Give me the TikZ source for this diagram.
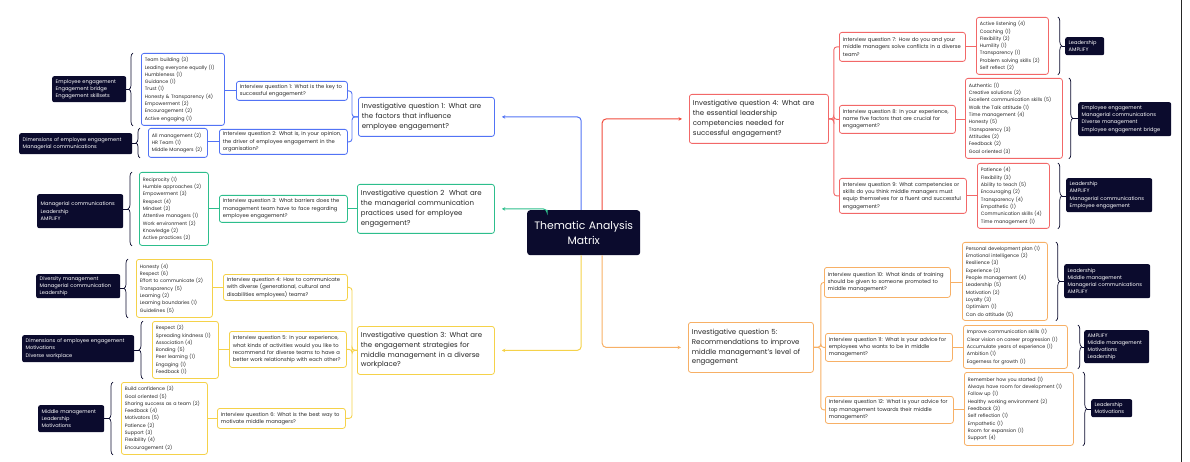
\documentclass[tikz,border=0pt]{standalone}
\usepackage{fontspec}
\setmainfont{Poppins}
\usetikzlibrary{decorations.pathreplacing,arrows.meta}
\hyphenpenalty=10000
\exhyphenpenalty=10000

\definecolor{navy}{HTML}{0B0B2D}
\definecolor{ink}{HTML}{262626}
\definecolor{cblue}{HTML}{5273F5}
\definecolor{cgreen}{HTML}{2DBE8C}
\definecolor{cyellow}{HTML}{F5D24A}
\definecolor{cred}{HTML}{F26868}
\definecolor{credarrow}{HTML}{F04B3C}
\definecolor{corange}{HTML}{F7B066}

% box placed by its top-left and bottom-right corners (in px units)
\newcommand\mapbox[7]{%
  \pgfmathsetmacro\mapw{#5-#3}%
  \pgfmathsetmacro\maph{#6-#4}%
  \pgfmathsetmacro\maptw{#5-#3-7}%
  \node[#2, anchor=north west, inner xsep=3.5pt, inner ysep=0pt,
        minimum width=\mapw pt, minimum height=\maph pt,
        text width=\maptw pt] (#1) at (#3,-#4) {#7};}

% curly brace on the left of an item list, tied to its tag box
\newcommand\leftbrace[3]{%
  \draw[bracestyle] ([xshift=-#3pt]#1.south west) -- ([xshift=-#3pt]#1.north west);
  \coordinate (#1tip) at ([xshift=-#3pt-4pt]#1.west);
  \draw[tick] (#2.east |- #1tip) -- (#1tip);}
% curly brace on the right of an item list
\newcommand\rightbrace[3]{%
  \draw[bracestyle] ([xshift=#3pt]#1.north east) -- ([xshift=#3pt]#1.south east);
  \coordinate (#1tip) at ([xshift=#3pt+4pt]#1.east);
  \draw[tick] (#1tip) -- (#2.west |- #1tip);}

\tikzset{
  base/.style={rounded corners=2.5pt, line width=0.8pt, fill=white, align=left, text=ink},
  iqbox/.style={base, font=\fontsize{7}{9.8}\selectfont},
  qbox/.style={base, font=\fontsize{5.2}{7.3}\selectfont},
  itembox/.style={base, font=\fontsize{4.8}{7.3}\selectfont},
  tagbox/.style={rounded corners=2pt, fill=navy, text=white, align=left,
                 font=\fontsize{5.1}{7.2}\selectfont},
  hub/.style={rounded corners=3pt, fill=navy, text=white, align=center,
              font=\fontsize{10.8}{15}\selectfont},
  bracestyle/.style={draw=navy, line width=0.7pt, decorate,
                     decoration={brace, amplitude=4pt}},
  tick/.style={draw=navy, line width=0.6pt},
  link/.style={line width=0.9pt, rounded corners=3pt},
  spoke/.style={line width=1pt, rounded corners=4pt,
                -{Stealth[length=3.5pt,width=3.5pt]}, shorten >=7pt},
  edgeline/.style={draw=black!85, line width=1.4pt},
}

\begin{document}
\begin{tikzpicture}[x=1pt,y=1pt]
\useasboundingbox (0,0) rectangle (1190,-462);

% right edge of the sheet
\coordinate (edgetop) at (1181.5,0);
\coordinate (edgebot) at (1181.5,-462);
\draw[edgeline] (edgetop) -- (edgebot);

% ---------- hub ----------
\mapbox{hub}{hub, align=center}{527}{210}{640}{255}{Thematic Analysis\\Matrix}

% ---------- investigative questions ----------
\mapbox{iq1}{iqbox, draw=cblue}{358}{97}{494}{136}{Investigative question 1: What are\\the factors that influence\\employee engagement?}
\mapbox{iq2}{iqbox, draw=cgreen}{357}{184}{494}{233}{Investigative question 2\ \ What are\\the managerial communication\\practices used for employee\\engagement?}
\mapbox{iq3}{iqbox, draw=cyellow}{357}{326}{494}{374}{Investigative question 3: What are\\the engagement strategies for\\middle management in a diverse\\workplace?}
\mapbox{iq4}{iqbox, draw=cred}{689}{94}{828}{143}{Investigative question 4: What are\\the essential leadership\\competencies needed for\\successful engagement?}
\mapbox{iq5}{iqbox, draw=corange}{688}{322}{813}{372}{Investigative question 5:\\Recommendations to improve\\middle management's level of\\engagement}

% ---------- interview questions ----------
\mapbox{q1}{qbox, draw=cblue}{236}{81}{347}{100}{Interview question 1: What is the key to\\successful engagement?}
\mapbox{q2}{qbox, draw=cblue}{219}{129}{347}{154}{Interview question 2: What is, in your opinion,\\the driver of employee engagement in the\\organisation?}
\mapbox{q3}{qbox, draw=cgreen}{219}{195}{347}{222}{Interview question 3: What barriers does the\\management team have to face regarding\\employee engagement?}
\mapbox{q4}{qbox, draw=cyellow}{223}{274}{347}{300}{Interview question 4: How to communicate\\with diverse (generational, cultural and\\disabilities employees) teams?}
\mapbox{q5}{qbox, draw=cyellow}{229}{331}{346}{367}{Interview question 5: In your experience,\\what kinds of activities would you like to\\recommend for diverse teams to have a\\better work relationship with each other?}
\mapbox{q6}{qbox, draw=cyellow}{217}{408}{345}{428}{Interview question 6: What is the best way to\\motivate middle managers?}
\mapbox{q7}{qbox, draw=cred}{839}{32}{965}{61}{Interview question 7: How do you and your\\middle managers solve conflicts in a diverse\\team?}
\mapbox{q8}{qbox, draw=cred}{839}{105}{955}{133}{Interview question 8: In your experience,\\name five factors that are crucial for\\engagement?}
\mapbox{q9}{qbox, draw=cred}{839}{178}{966}{213}{Interview question 9: What competencies or\\skills do you think middle managers must\\equip themselves for a fluent and successful\\engagement?}
\mapbox{q10}{qbox, draw=corange}{824}{267}{950}{297}{Interview question 10: What kinds of training\\should be given to someone promoted to\\middle management?}
\mapbox{q11}{qbox, draw=corange}{825}{333}{952}{361}{Interview question 11: What is your advice for\\employees who wants to be in middle\\management?}
\mapbox{q12}{qbox, draw=corange}{825}{396}{953}{423}{Interview question 12: What is your advice for\\top management towards their middle\\management?}

% ---------- answer lists ----------
\mapbox{i1}{itembox, draw=cblue}{141}{53}{224}{125}{Team building (3)\\Leading everyone equally (1)\\Humbleness (1)\\Guidance (1)\\Trust (1)\\Honesty \& Transparency (4)\\Empowerment (2)\\Encouragement (2)\\Active engaging (1)}
\mapbox{i2}{itembox, draw=cblue}{148}{128}{207}{157}{All management (2)\\HR Team (1)\\Middle Managers (2)}
\mapbox{i3}{itembox, draw=cgreen}{139}{172}{208}{245}{Reciprocity (1)\\Humble approaches (2)\\Empowerment (3)\\Respect (4)\\Mindset (2)\\Attentive managers (1)\\Work environment (2)\\Knowledge (2)\\Active practices (2)}
\mapbox{i4}{itembox, draw=cyellow}{136}{259}{212}{317}{Honesty (4)\\Respect (6)\\Effort to communicate (2)\\Transparency (5)\\Learning (2)\\Learning boundaries (1)\\Guidelines (5)}
\mapbox{i5}{itembox, draw=cyellow}{152}{321}{218}{378}{Respect (2)\\Spreading kindness (1)\\Association (4)\\Bonding (5)\\Peer learning (1)\\Engaging (1)\\Feedback (1)}
\mapbox{i6}{itembox, draw=cyellow}{121}{382}{207}{454}{Build confidence (3)\\Goal oriented (5)\\Sharing success as a team (2)\\Feedback (4)\\Motivators (5)\\Patience (2)\\Support (3)\\Flexibility (4)\\Encouragement (2)}
\mapbox{i7}{itembox, draw=cred}{976}{17}{1048}{74}{Active listening (4)\\Coaching (1)\\Flexibility (2)\\Humility (1)\\Transparency (1)\\Problem solving skills (2)\\Self reflect (2)}
\mapbox{i8}{itembox, draw=cred}{965}{78}{1062}{158}{Authentic (1)\\Creative solutions (2)\\Excellent communication skills (5)\\Walk the Talk attitude (1)\\Time management (4)\\Honesty (5)\\Transparency (3)\\Attitudes (2)\\Feedback (2)\\Goal oriented (3)}
\mapbox{i9}{itembox, draw=cred}{977}{163}{1049}{228}{Patience (4)\\Flexibility (3)\\Ability to teach (5)\\Encouraging (2)\\Transparency (4)\\Empathetic (1)\\Communication skills (4)\\Time management (1)}
\mapbox{i10}{itembox, draw=corange}{962}{242}{1047}{320}{Personal development plan (1)\\Emotional intelligence (2)\\Resilience (3)\\Experience (2)\\People management (4)\\Leadership (5)\\Motivation (2)\\Loyalty (3)\\Optimism (1)\\Can do attitude (5)}
\mapbox{i11}{itembox, draw=corange}{963}{325}{1067}{368}{Improve communication skills (1)\\Clear vision on career progression (1)\\Accumulate years of experience (1)\\Ambition (1)\\Eagerness for growth (1)}
\mapbox{i12}{itembox, draw=corange}{964}{372}{1073}{445}{Remember how you started (1)\\Always have room for development (1)\\Follow up (1)\\Healthy working environment (2)\\Feedback (3)\\Self reflection (1)\\Empathetic (1)\\Room for expansion (1)\\Support (4)}

% ---------- theme tags ----------
\mapbox{t1}{tagbox}{52}{76}{126}{102}{Employee engagement\\Engagement bridge\\Engagement skillsets}
\mapbox{t2}{tagbox}{19}{133}{132}{154}{Dimensions of employee engagement\\Managerial communications}
\mapbox{t3}{tagbox}{37}{194}{123}{228}{Managerial communications\\Leadership\\AMPLIFY}
\mapbox{t4}{tagbox}{36}{274}{120}{298}{Diversity management\\Managerial communication\\Leadership}
\mapbox{t5}{tagbox}{22}{335}{134}{362}{Dimensions of employee engagement\\Motivations\\Diverse workplace}
\mapbox{t6}{tagbox}{38}{405}{104}{432}{Middle management\\Leadership\\Motivations}
\mapbox{t7}{tagbox}{1065}{37}{1104}{55}{Leadership\\AMPLIFY}
\mapbox{t8}{tagbox}{1078}{102}{1171}{136}{Employee engagement\\Managerial communications\\Diverse management\\Employee engagement bridge}
\mapbox{t9}{tagbox}{1066}{178}{1152}{212}{Leadership\\AMPLIFY\\Managerial communications\\Employee engagement}
\mapbox{t10}{tagbox}{1064}{264}{1150}{298}{Leadership\\Middle management\\Managerial communications\\AMPLIFY}
\mapbox{t11}{tagbox}{1084}{330}{1149}{363}{AMPLIFY\\Middle management\\Motivations\\Leadership}
\mapbox{t12}{tagbox}{1091}{399}{1132}{417}{Leadership\\Motivations}

% ---------- spokes from the hub ----------
\draw[spoke, draw=cblue] ([xshift=-2.5pt]hub.north) |- (iq1.east);
\draw[spoke, draw=cgreen] ([xshift=-36.5pt]hub.north) |- (iq2.east);
\draw[spoke, draw=cyellow] ([xshift=-2.5pt]hub.south) |- (iq3.east);
\draw[spoke, draw=credarrow] ([xshift=18.5pt]hub.north) |- (iq4.west);
\draw[spoke, draw=corange] ([xshift=18.5pt]hub.south) |- (iq5.west);

% ---------- question trees ----------
\draw[link, draw=cblue] (iq1.west) -- ++(-6,0) |- (q1.east);
\draw[link, draw=cblue] (iq1.west) -- ++(-6,0) |- (q2.east);
\draw[link, draw=cgreen] (iq2.west) -- (q3.east);
\draw[link, draw=cyellow] (iq3.west) -- ++(-5,0) |- (q4.east);
\draw[link, draw=cyellow] (iq3.west) -- ++(-5,0) |- (q5.east);
\draw[link, draw=cyellow] (iq3.west) -- ++(-5,0) |- (q6.east);
\draw[link, draw=cred] (iq4.east) -- ++(5,0) |- (q7.west);
\draw[link, draw=cred] (iq4.east) -- ++(5,0) |- (q8.west);
\draw[link, draw=cred] (iq4.east) -- ++(5,0) |- (q9.west);
\draw[link, draw=corange] (iq5.east) -- ++(7,0) |- (q10.west);
\draw[link, draw=corange] (iq5.east) -- ++(7,0) |- (q11.west);
\draw[link, draw=corange] (iq5.east) -- ++(7,0) |- (q12.west);

% ---------- answers to questions ----------
\draw[link, draw=cblue] (q1.west) -- (q1.west -| i1.east);
\draw[link, draw=cblue] (q2.west) -- (q2.west -| i2.east);
\draw[link, draw=cgreen] (q3.west) -- (q3.west -| i3.east);
\draw[link, draw=cyellow] (q4.west) -- (q4.west -| i4.east);
\draw[link, draw=cyellow] (q5.west) -- (q5.west -| i5.east);
\draw[link, draw=cyellow] (q6.west) -- (q6.west -| i6.east);
\draw[link, draw=cred] (q7.east) -- (q7.east -| i7.west);
\draw[link, draw=cred] (q8.east) -- (q8.east -| i8.west);
\draw[link, draw=cred] (q9.east) -- (q9.east -| i9.west);
\draw[link, draw=corange] (q10.east) -- (q10.east -| i10.west);
\draw[link, draw=corange] (q11.east) -- (q11.east -| i11.west);
\draw[link, draw=corange] (q12.east) -- (q12.east -| i12.west);

% ---------- braces to theme tags ----------
\leftbrace{i1}{t1}{8}
\leftbrace{i2}{t2}{8}
\leftbrace{i3}{t3}{7}
\leftbrace{i4}{t4}{8}
\leftbrace{i5}{t5}{9}
\leftbrace{i6}{t6}{8}
\rightbrace{i7}{t7}{9}
\rightbrace{i8}{t8}{6}
\rightbrace{i9}{t9}{8}
\rightbrace{i10}{t10}{8}
\rightbrace{i11}{t11}{10}
\rightbrace{i12}{t12}{9}
\end{tikzpicture}
\end{document}
